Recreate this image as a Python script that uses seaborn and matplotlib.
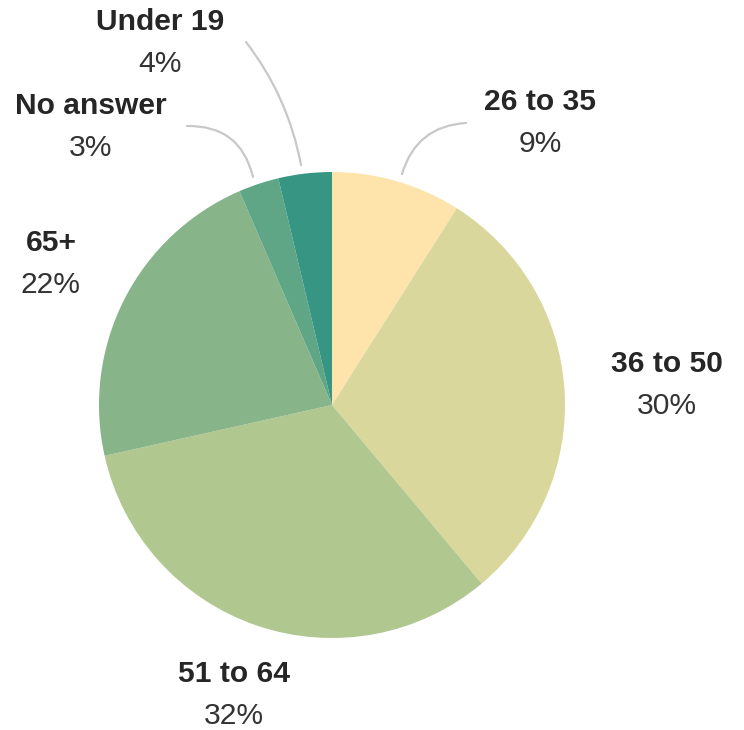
import matplotlib
matplotlib.use('Agg')
import matplotlib.pyplot as plt
import seaborn as sns

# Dados (ordem horária a partir do topo)
categorias = ['26 to 35', '36 to 50', '51 to 64', '65+', 'No answer', 'Under 19']
valores = [9.0, 29.9, 32.6, 22.0, 2.8, 3.7]
rotulos_pct = ['9%', '30%', '32%', '22%', '3%', '4%']
cores = ['#fee3ab', '#d9d79c', '#b0c790', '#88b48a', '#5ea685', '#369583']

sns.set_theme(style='white')
plt.rcParams['font.family'] = ['Liberation Sans', 'DejaVu Sans']

W, H = 744, 730
fig = plt.figure(figsize=(W / 100, H / 100), dpi=100)
ax = fig.add_axes([0, 0, 1, 1])

cx, cy, r = 332, H - 405, 233
ax.pie(valores, colors=cores, startangle=90, counterclock=False,
       center=(cx, cy), radius=r, frame=True,
       wedgeprops={'linewidth': 0})
ax.set_xlim(0, W)
ax.set_ylim(0, H)
ax.set_aspect('equal')
ax.axis('off')

# posições dos rótulos (pixels, origem no topo)
pos_rotulos = [(540, 102), (667, 364), (234, 674), (51, 243), (91, 106), (160, 22)]
for cat, pct, (x, y) in zip(categorias, rotulos_pct, pos_rotulos):
    ax.text(x, H - y, cat, ha='center', va='center', fontsize=21.6,
            fontweight='bold', color='#262626')
    ax.text(x, H - y - 42, pct, ha='center', va='center', fontsize=21.6,
            color='#333333')

# linhas de ligação curvas
ligacoes = [((402, 174), (466, 123), 0.35),
            ((253, 177), (187, 126), -0.4),
            ((301, 165), (246, 42), -0.12)]
for (x0, y0), (x1, y1), rad in ligacoes:
    ax.annotate('', xy=(x0, H - y0), xytext=(x1, H - y1),
                arrowprops=dict(arrowstyle='-', color='#c8c8c8', lw=1.6,
                                connectionstyle=f'arc3,rad={rad}',
                                shrinkA=0, shrinkB=0))

plt.savefig('out.png', dpi=100)
